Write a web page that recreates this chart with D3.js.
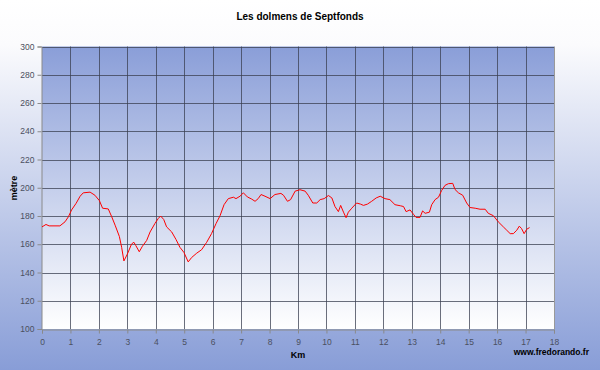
<!DOCTYPE html>
<html><head><meta charset="utf-8">
<script src="https://cdn.jsdelivr.net/npm/d3@7/dist/d3.min.js"></script>
<style>html,body{margin:0;padding:0;background:#fff}svg{display:block}</style>
</head><body><svg id="c" width="600" height="370"></svg>
<script>
const title = "Les dolmens de Septfonds";
const xLabel = "Km";
const yLabel = "mètre";
const credit = "www.fredorando.fr";
const xTicks = d3.range(0, 19, 1);
const yTicks = d3.range(100, 301, 20);
const km = [0,0.14,0.25,0.63,0.81,0.93,1.04,1.2,1.34,1.45,1.69,1.86,2.02,2.13,2.33,2.45,2.57,2.72,2.8,2.88,3.0,3.15,3.23,3.3,3.42,3.53,3.68,3.8,3.97,4.09,4.17,4.28,4.38,4.56,4.71,4.85,4.99,5.14,5.26,5.44,5.61,5.79,5.96,6.12,6.26,6.4,6.55,6.73,6.82,6.96,7.08,7.22,7.37,7.49,7.6,7.7,7.84,8.02,8.19,8.4,8.49,8.63,8.74,8.9,9.07,9.25,9.36,9.52,9.66,9.78,9.92,10.07,10.19,10.3,10.42,10.5,10.6,10.69,10.77,10.89,11.06,11.2,11.3,11.44,11.59,11.75,11.89,12.06,12.23,12.41,12.61,12.71,12.8,12.94,13.06,13.15,13.29,13.38,13.47,13.62,13.7,13.82,13.94,14.05,14.17,14.29,14.44,14.52,14.64,14.79,14.93,15.05,15.23,15.4,15.58,15.69,15.87,16.04,16.22,16.34,16.46,16.57,16.69,16.78,16.86,16.95,17.04,17.14];
const alt = [172.3,174,173,173,175.9,179.5,184.3,189,194,196.4,196.9,194.7,190.8,185.5,185,179.5,173.5,165.5,157.8,148.2,153,160.2,161.4,159,154.7,158.6,162.7,168.7,174.7,178.3,180,177.5,172.3,168.7,163.4,157.8,154.2,147.5,150.6,153.7,156.1,161.4,167.5,174.7,180.2,188,192.3,193.3,192.3,194,196.4,193.5,192,190.4,192.3,195.2,194,192.3,195.2,196,194.7,190.4,191.6,197.6,198.6,197.6,194.7,189.2,189.2,191.6,192.3,194.5,192.8,186.7,183.1,187.5,182.7,178.8,182.7,185.5,189.2,188.4,187.5,188.4,190.4,192.8,194,192.3,191.6,188,187.2,186.7,183.1,184.3,181.2,179,179,183.6,181.9,182.7,188,191.6,193.3,198.1,201.7,202.9,203.1,198.8,196.4,194.7,189.2,186,185.5,184.8,184.8,181.9,180.2,175.9,172.3,169.9,167.5,167.5,169.9,172.8,171.1,167.5,170.6,171.8];

const svg = d3.select("#c");
const defs = svg.append("defs");
const bg = defs.append("linearGradient").attr("id","bg").attr("x1",0).attr("y1",0).attr("x2",0).attr("y2",1);
bg.append("stop").attr("offset","0%").attr("stop-color","#ffffff");
bg.append("stop").attr("offset","12%").attr("stop-color","#fbfbfd");
bg.append("stop").attr("offset","100%").attr("stop-color","#889dd7");
const pg = defs.append("linearGradient").attr("id","pg").attr("x1",0).attr("y1",0).attr("x2",0).attr("y2",1);
pg.append("stop").attr("offset","0%").attr("stop-color","#8a9ed8");
pg.append("stop").attr("offset","100%").attr("stop-color","#ffffff");

svg.append("rect").attr("width",600).attr("height",370).attr("fill","url(#bg)");

const L = 42, R = 554, T = 46.5, B = 329;
const x = d3.scaleLinear().domain([0,18]).range([L,R]);
const y = d3.scaleLinear().domain([100,300]).range([B,T]);

svg.append("rect").attr("x",L).attr("y",T).attr("width",R-L).attr("height",B-T).attr("fill","url(#pg)");

const g = svg.append("g");
g.selectAll(".vg").data(xTicks.slice(1,-1)).join("line")
 .attr("x1",d=>Math.round(x(d))+0.5).attr("x2",d=>Math.round(x(d))+0.5)
 .attr("y1",T).attr("y2",B).attr("stroke","#3a3f50").attr("stroke-opacity",0.75);
g.selectAll(".hg").data(yTicks.slice(1)).join("line")
 .attr("y1",d=>Math.round(y(d))+0.5).attr("y2",d=>Math.round(y(d))+0.5)
 .attr("x1",L).attr("x2",R).attr("stroke","#3a3f50").attr("stroke-opacity",0.75);
svg.append("line").attr("x1",R+0.5).attr("x2",R+0.5).attr("y1",T).attr("y2",B).attr("stroke","#999");

const font = "Arial, 'Liberation Sans', sans-serif";
const xa = svg.append("g").attr("transform",`translate(0,${Math.round(B)+0.5})`)
 .call(d3.axisBottom(x).tickValues(xTicks).tickSize(4).tickPadding(5).tickFormat(d3.format("d")));
const ya = svg.append("g").attr("transform",`translate(${L-0.5},0)`)
 .call(d3.axisLeft(y).tickValues(yTicks).tickSize(4).tickPadding(3).tickFormat(d3.format("d")));
[xa,ya].forEach(a=>{
  a.selectAll("path").attr("stroke","#8a8a8a");
  a.selectAll("line").attr("stroke","#8a8a8a");
  a.selectAll("text").attr("fill","#4b5060").attr("font-family",font).attr("font-size",8.5);
});

const pts = km.map((k,i)=>[k,alt[i]]);
svg.append("path").datum(pts)
 .attr("d", d3.line().x(d=>x(d[0])).y(d=>y(d[1])))
 .attr("fill","none").attr("stroke","#ff0000").attr("stroke-width",1);

svg.append("text").attr("x",300).attr("y",20).attr("text-anchor","middle")
 .attr("font-family",font).attr("font-weight","bold").attr("font-size",10).attr("fill","#000").text(title);
svg.append("text").attr("x",298).attr("y",358).attr("text-anchor","middle")
 .attr("font-family",font).attr("font-weight","bold").attr("font-size",9).attr("fill","#000").text(xLabel);
svg.append("text").attr("transform","translate(17,188) rotate(-90)").attr("text-anchor","middle")
 .attr("font-family",font).attr("font-weight","bold").attr("font-size",9).attr("fill","#000").text(yLabel);
svg.append("text").attr("x",589).attr("y",355).attr("text-anchor","end")
 .attr("font-family",font).attr("font-weight","bold").attr("font-size",8.5).attr("fill","#000").text(credit);
</script></body></html>
